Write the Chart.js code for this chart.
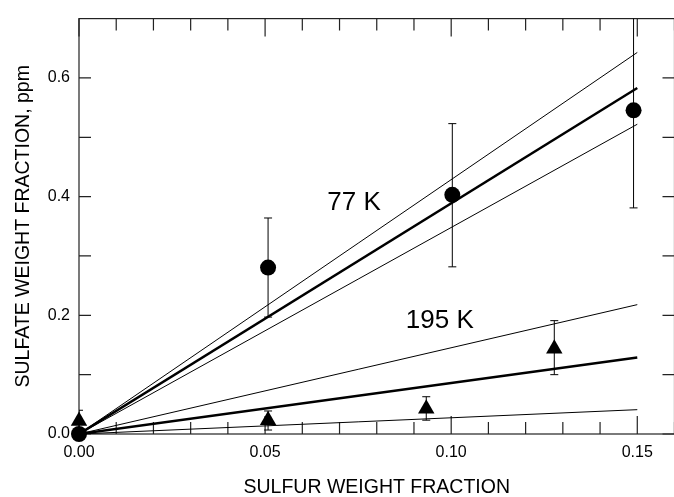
<!DOCTYPE html>
<html><head><meta charset="utf-8">
<script src="https://cdn.jsdelivr.net/npm/chart.js@4.4.1/dist/chart.umd.min.js"></script>
<style>html,body{margin:0;padding:0;overflow:hidden;background:#fff;width:674px;height:497px}canvas{display:block}</style>
</head><body>
<canvas id="c" width="684" height="497" style="width:684px;height:497px"></canvas>
<script>
// Axis ticks
const xTicks = [0, 0.05, 0.10, 0.15];
const yTicks = [0, 0.2, 0.4, 0.6];
const xMinorTicks = [0.01, 0.02, 0.03, 0.04, 0.06, 0.07, 0.08, 0.09, 0.11, 0.12, 0.13, 0.14, 0.16];
const yMinorTicks = [0.1, 0.3, 0.5];
const xTitle = 'SULFUR WEIGHT FRACTION';
const yTitle = 'SULFATE WEIGHT FRACTION, ppm';

// 77 K measurements (circles)
const s77x  = [0, 0.0508, 0.1003, 0.149];
const s77y  = [0, 0.2805, 0.403, 0.5455];
const s77lo = [0, 0.197, 0.2817, 0.381];
const s77hi = [0, 0.364, 0.523, 0.71];

// 195 K measurements (triangles)
const s195x  = [0, 0.0508, 0.0933, 0.1277];
const s195y  = [0.022, 0.023, 0.0425, 0.1437];
const s195lo = [0.004, 0.0067, 0.0233, 0.100];
const s195hi = [0.040, 0.0388, 0.0628, 0.191];

// Fit lines (value at fitX)
const fitX = [0, 0.15];
const fit77    = [0, 0.583];
const fit77Hi  = [0, 0.643];
const fit77Lo  = [0, 0.522];
const fit195   = [0, 0.129];
const fit195Hi = [0, 0.218];
const fit195Lo = [0, 0.041];

// Text labels
const labelTexts = ['77 K', '195 K'];
const labelX = [0.0667, 0.0878];
const labelY = [0.378, 0.178];

const pts = (xs, ys) => xs.map((x, i) => ({x: x, y: ys[i]}));
const lineDs = (ys, w) => ({data: pts(fitX, ys), showLine: true, pointRadius: 0, borderColor: '#000', borderWidth: w, fill: false, order: 5});

Chart.defaults.font.family = "'Liberation Sans', Arial, Helvetica, sans-serif";
Chart.defaults.color = '#000';

const framePlugin = {
  id: 'frame',
  beforeDatasetsDraw(chart) {
    const ctx = chart.ctx, a = chart.chartArea;
    const xs = chart.scales.x, ys = chart.scales.y;
    ctx.save();
    ctx.strokeStyle = '#222';
    ctx.lineWidth = 1.2;
    ctx.strokeRect(a.left, a.top, a.right - a.left, a.bottom - a.top);
    ctx.beginPath();
    const xt = (v, len) => { const p = xs.getPixelForValue(v); ctx.moveTo(p, a.bottom); ctx.lineTo(p, a.bottom - len); ctx.moveTo(p, a.top); ctx.lineTo(p, a.top + len); };
    xTicks.forEach(v => xt(v, 18));
    xMinorTicks.forEach(v => xt(v, 12));
    const yt = (v, len) => { const p = ys.getPixelForValue(v); ctx.moveTo(a.left, p); ctx.lineTo(a.left + len, p); ctx.moveTo(a.right, p); ctx.lineTo(a.right - len, p); };
    yTicks.forEach(v => yt(v, 12));
    yMinorTicks.forEach(v => yt(v, 12));
    ctx.stroke();
    // error bars
    ctx.save();
    ctx.beginPath(); ctx.rect(a.left, a.top, a.right - a.left, a.bottom - a.top + 20); ctx.clip();
    ctx.strokeStyle = '#000'; ctx.lineWidth = 1;
    ctx.beginPath();
    const eb = (xArr, lo, hi) => xArr.forEach((x, i) => {
      if (lo[i] === hi[i]) return;
      const px = xs.getPixelForValue(x), p1 = ys.getPixelForValue(lo[i]), p2 = ys.getPixelForValue(hi[i]);
      ctx.moveTo(px, p1); ctx.lineTo(px, p2);
      ctx.moveTo(px - 4, p1); ctx.lineTo(px + 4, p1);
      ctx.moveTo(px - 4, p2); ctx.lineTo(px + 4, p2);
    });
    eb(s77x, s77lo, s77hi);
    eb(s195x, s195lo, s195hi);
    ctx.stroke();
    ctx.restore();
    // labels
    ctx.fillStyle = '#000';
    ctx.font = "26px 'Liberation Sans', Arial, sans-serif";
    ctx.textBaseline = 'alphabetic';
    ctx.textAlign = 'left';
    labelTexts.forEach((t, i) => ctx.fillText(t, xs.getPixelForValue(labelX[i]), ys.getPixelForValue(labelY[i])));
    ctx.restore();
  }
};

new Chart(document.getElementById('c'), {
  type: 'scatter',
  data: {
    datasets: [
      lineDs(fit77, 2.5), lineDs(fit77Hi, 1), lineDs(fit77Lo, 1),
      lineDs(fit195, 2.5), lineDs(fit195Hi, 1), lineDs(fit195Lo, 1),
      {data: pts(s77x, s77y), pointStyle: 'circle', pointRadius: 8, backgroundColor: '#000', borderWidth: 0, clip: false, order: 1},
      {data: pts(s195x, s195y), pointStyle: 'triangle', pointRadius: 9.5, backgroundColor: '#000', borderWidth: 0, clip: false, order: 1}
    ]
  },
  options: {
    responsive: false,
    animation: false,
    layout: {padding: {top: 15, right: 5.5, bottom: 0, left: 0}},
    plugins: {legend: {display: false}, tooltip: {enabled: false}},
    scales: {
      x: {
        type: 'linear', min: 0, max: 0.16,
        afterBuildTicks: s => { s.ticks = xTicks.map(v => ({value: v})); },
        afterFit: s => { s.height = 63; },
        grid: {display: false, drawTicks: false},
        border: {display: false},
        ticks: {font: {size: 16}, padding: 9, maxRotation: 0, callback: v => v.toFixed(2)},
        title: {display: true, text: xTitle, font: {size: 19.5, lineHeight: 1}, padding: {top: 0, bottom: 0}}
      },
      y: {
        type: 'linear', min: 0, max: 0.7,
        afterBuildTicks: s => { s.ticks = yTicks.map(v => ({value: v})); },
        afterFit: s => { s.width = 79; },
        grid: {display: false, drawTicks: false},
        border: {display: false},
        ticks: {font: {size: 16}, padding: 9, callback: v => v.toFixed(1)},
        title: {display: true, text: yTitle, font: {size: 19.5, lineHeight: 1}, padding: {top: 13.5, bottom: 0}}
      }
    }
  },
  plugins: [framePlugin]
});
</script>
</body></html>
